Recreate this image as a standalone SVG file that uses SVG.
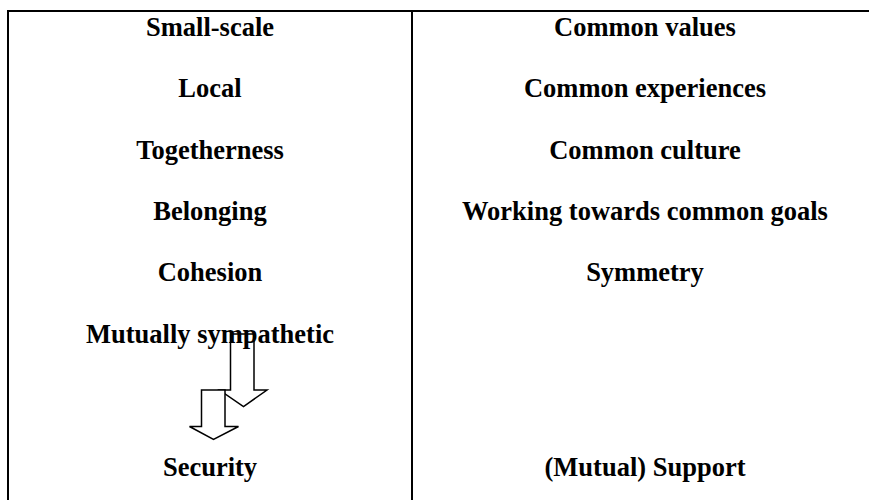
<svg xmlns="http://www.w3.org/2000/svg" width="869" height="500" viewBox="0 0 869 500">
<style>
.t{font-family:"Liberation Serif","Times New Roman",serif;font-weight:bold;font-size:26.5px;fill:#000;text-anchor:middle}
.rule{stroke:#000;stroke-width:2;fill:none}
.arr{fill:#fff;stroke:#000;stroke-width:1.5;stroke-linejoin:miter}
</style>
<rect width="869" height="500" fill="#fff"/>
<g id="table">
<line class="rule" x1="7" y1="11" x2="869" y2="11"/>
<line class="rule" x1="8" y1="10" x2="8" y2="500"/>
<line class="rule" x1="412" y1="11" x2="412" y2="500"/>
</g>
<g id="connectors">
<polygon class="arr" points="230.5,334 254,334 254,390 267,390 243.5,406.5 219.5,390 230.5,390"/>
<polygon class="arr" points="201.5,390 225,390 225,426.5 238.5,426.5 213.5,439.5 189.5,426.5 201.5,426.5"/>
</g>
<g id="left">
<g id="small-scale"><text class="t" x="210" y="36">Small-scale</text></g>
<g id="local"><text class="t" x="210" y="97.3">Local</text></g>
<g id="togetherness"><text class="t" x="210" y="158.6">Togetherness</text></g>
<g id="belonging"><text class="t" x="210" y="219.9">Belonging</text></g>
<g id="cohesion"><text class="t" x="210" y="281.2">Cohesion</text></g>
<g id="mutually-sympathetic"><text class="t" x="210" y="342.5">Mutually sympathetic</text></g>
<g id="security"><text class="t" x="210" y="476">Security</text></g>
</g>
<g id="right">
<g id="common-values"><text class="t" x="645" y="36">Common values</text></g>
<g id="common-experiences"><text class="t" x="645" y="97.3">Common experiences</text></g>
<g id="common-culture"><text class="t" x="645" y="158.6">Common culture</text></g>
<g id="common-goals"><text class="t" x="645" y="219.9">Working towards common goals</text></g>
<g id="symmetry"><text class="t" x="645" y="281.2">Symmetry</text></g>
<g id="mutual-support"><text class="t" x="645" y="476">(Mutual) Support</text></g>
</g>
</svg>
